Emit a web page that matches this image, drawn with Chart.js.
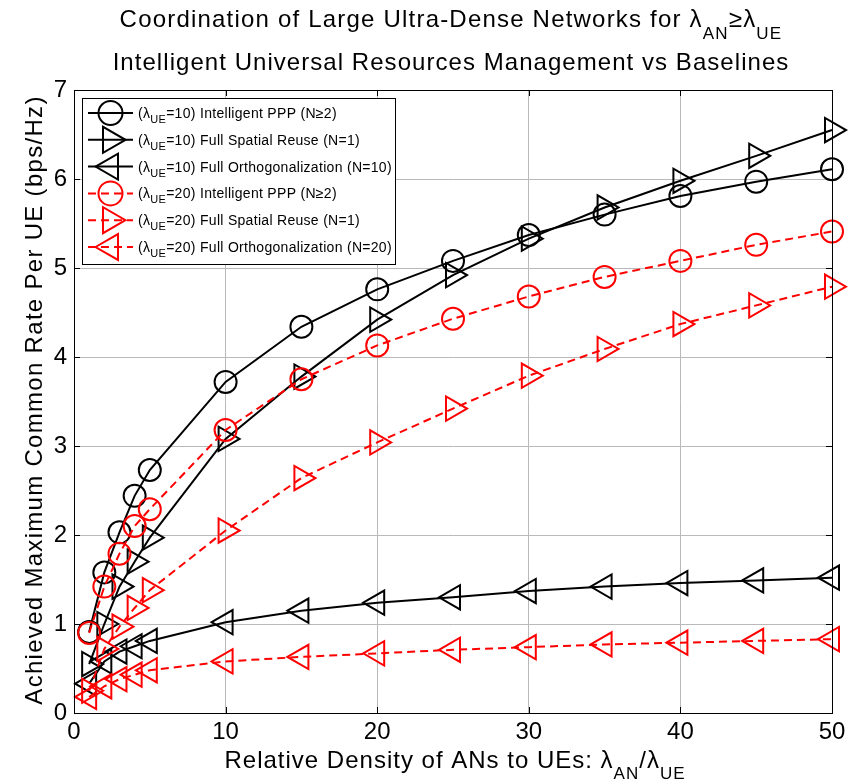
<!DOCTYPE html>
<html>
<head>
<meta charset="utf-8">
<script src="https://cdn.jsdelivr.net/npm/chart.js"></script>
<style>
  body { margin: 0; background: #fff; }
  #rateChart { display: block; }
</style>
</head>
<body>
<canvas id="rateChart" width="862" height="784"></canvas>
<script>
// relative density lambda_AN / lambda_UE
const densities = [1, 2, 3, 4, 5, 10, 15, 20, 25, 30, 35, 40, 45, 50];

// achieved max common rate (bps/Hz), lambda_UE = 10
const ipppUE10 = [0.91, 1.58, 2.03, 2.44, 2.73, 3.72, 4.34, 4.76, 5.08, 5.37, 5.60, 5.81, 5.97, 6.11];
const fsrUE10  = [0.55, 1.00, 1.42, 1.70, 1.97, 3.08, 3.78, 4.42, 4.92, 5.33, 5.68, 5.98, 6.26, 6.55];
const foUE10   = [0.33, 0.58, 0.69, 0.75, 0.81, 1.02, 1.15, 1.24, 1.30, 1.37, 1.42, 1.46, 1.49, 1.52];

// lambda_UE = 20
const ipppUE20 = [0.90, 1.42, 1.79, 2.10, 2.29, 3.18, 3.75, 4.13, 4.43, 4.68, 4.90, 5.08, 5.26, 5.41];
const fsrUE20  = [0.25, 0.72, 0.97, 1.18, 1.38, 2.05, 2.64, 3.04, 3.42, 3.79, 4.09, 4.37, 4.58, 4.79];
const foUE20   = [0.18, 0.30, 0.38, 0.43, 0.48, 0.58, 0.63, 0.67, 0.71, 0.74, 0.77, 0.79, 0.81, 0.83];

const ueDensity = [10, 10, 10, 20, 20, 20];
const schemeNames = [
  'Intelligent PPP (N\u22652)', 'Full Spatial Reuse (N=1)', 'Full Orthogonalization (N=10)',
  'Intelligent PPP (N\u22652)', 'Full Spatial Reuse (N=1)', 'Full Orthogonalization (N=20)'
];
const xTicks = [0, 10, 20, 30, 40, 50];
const yTicks = [0, 1, 2, 3, 4, 5, 6, 7];

const FONT = '"Liberation Sans", Arial, sans-serif';

//series look: marker, rotation, colour
const seriesData = [ipppUE10, fsrUE10, foUE10, ipppUE20, fsrUE20, foUE20];
const markers = ['circle', 'triangle', 'triangle', 'circle', 'triangle', 'triangle'];
const rotations = [0, 90, -90, 0, 90, -90];

function makeDataset(i) {
  const red = i >= 3;
  const col = red ? '#ff0000' : '#000000';
  return {
    label: '(\u03bbUE=' + ueDensity[i] + ') ' + schemeNames[i],
    data: densities.map((x, k) => ({ x: x, y: seriesData[i][k] })),
    borderColor: col,
    backgroundColor: 'rgba(0,0,0,0)',
    borderWidth: 2,
    borderDash: red ? [8, 5] : [],
    pointStyle: markers[i],
    pointRotation: rotations[i],
    pointRadius: markers[i] === 'circle' ? 11 : 14,
    pointBorderWidth: 2,
    pointBorderColor: col,
    pointBackgroundColor: 'rgba(0,0,0,0)',
    tension: 0,
    clip: false,
    order: 5 - i
  };
}

// text with subscripts: parts = [[text, isSub], ...]
function richWidth(ctx, parts, size, subSize) {
  let w = 0;
  parts.forEach(p => {
    ctx.font = (p[1] ? subSize : size) + 'px ' + FONT;
    w += ctx.measureText(p[0]).width;
  });
  return w;
}

function drawRich(ctx, parts, x, y, size, subSize, subDrop, align, spacing) {
  ctx.letterSpacing = (spacing || 0) + 'px';
  let w = richWidth(ctx, parts, size, subSize);
  let cx = align === 'center' ? x - w / 2 : x;
  ctx.textAlign = 'left';
  ctx.textBaseline = 'alphabetic';
  parts.forEach(p => {
    ctx.font = (p[1] ? subSize : size) + 'px ' + FONT;
    ctx.fillText(p[0], cx, p[1] ? y + subDrop : y);
    cx += ctx.measureText(p[0]).width;
  });
  ctx.letterSpacing = '0px';
}

function drawMarker(ctx, style, rot, x, y, r) {
  ctx.beginPath();
  if (style === 'circle') {
    ctx.arc(x, y, r, 0, Math.PI * 2);
  } else {
    const rad = rot * Math.PI / 180;
    for (let k = 0; k < 3; k++) {
      const a = rad + k * 2 * Math.PI / 3;
      const px = x + Math.sin(a) * r, py = y - Math.cos(a) * r;
      if (k === 0) ctx.moveTo(px, py); else ctx.lineTo(px, py);
    }
    ctx.closePath();
  }
  ctx.stroke();
}

const decorations = {
  id: 'decorations',
  afterDatasetsDraw(chart) {
    const ctx = chart.ctx;
    const a = chart.chartArea;
    ctx.save();

    // box + inward ticks like matlab
    ctx.strokeStyle = '#000';
    ctx.lineWidth = 1;
    ctx.setLineDash([]);
    ctx.strokeRect(a.left + 0.5, a.top + 0.5, a.right - a.left, a.bottom - a.top);
    const xs = chart.scales.x, ys = chart.scales.y;
    ctx.beginPath();
    xTicks.forEach(t => {
      const px = Math.round(xs.getPixelForValue(t)) + 0.5;
      ctx.moveTo(px, a.bottom); ctx.lineTo(px, a.bottom - 6);
      ctx.moveTo(px, a.top); ctx.lineTo(px, a.top + 6);
    });
    yTicks.forEach(t => {
      const py = Math.round(ys.getPixelForValue(t)) + 0.5;
      ctx.moveTo(a.left, py); ctx.lineTo(a.left + 6, py);
      ctx.moveTo(a.right, py); ctx.lineTo(a.right - 6, py);
    });
    ctx.stroke();

    // legend
    const lx = 82, ly = 98, lw = 313, lh = 166;
    ctx.fillStyle = '#fff';
    ctx.fillRect(lx, ly, lw, lh);
    ctx.strokeRect(lx + 0.5, ly + 0.5, lw, lh);
    chart.data.datasets.forEach((ds, i) => {
      const rowY = 113 + i * 26.8;
      ctx.strokeStyle = ds.borderColor;
      ctx.lineWidth = 2;
      ctx.setLineDash(ds.borderDash);
      ctx.beginPath();
      ctx.moveTo(88, rowY); ctx.lineTo(133, rowY);
      ctx.stroke();
      ctx.setLineDash([]);
      drawMarker(ctx, ds.pointStyle, ds.pointRotation, 110.5, rowY, ds.pointStyle === 'circle' ? 12 : 15);
      ctx.fillStyle = '#000';
      drawRich(ctx, [['(\u03bb', false], ['UE', true], ['=' + ueDensity[i] + ') ' + schemeNames[i], false]],
        138, rowY + 5, 14, 11, 5, 'left', 0.3);
    });
    ctx.restore();
  },
  afterDraw(chart) {
    const ctx = chart.ctx;
    ctx.save();
    ctx.fillStyle = '#000';
    drawRich(ctx, [['Coordination of Large Ultra-Dense Networks for \u03bb', false], ['AN', true], ['\u2265\u03bb', false], ['UE', true]],
      451, 27, 24, 17, 12, 'center', 1.2);
    drawRich(ctx, [['Intelligent Universal Resources Management vs Baselines', false]], 451, 70, 24, 17, 12, 'center', 1.05);
    drawRich(ctx, [['Relative Density of ANs to UEs: \u03bb', false], ['AN', true], ['/\u03bb', false], ['UE', true]],
      455, 768, 24, 17, 11, 'center', 1);
    ctx.translate(42, 400);
    ctx.rotate(-Math.PI / 2);
    drawRich(ctx, [['Achieved Maximum Common Rate Per UE (bps/Hz)', false]], 0, 0, 24, 17, 12, 'center', 1.3);
    ctx.restore();
  }
};

const rateChart = new Chart(document.getElementById('rateChart'), {
  type: 'line',
  data: { datasets: seriesData.map((s, i) => makeDataset(i)) },
  options: {
    responsive: false,
    animation: false,
    devicePixelRatio: 1,
    layout: { padding: { top: 90, right: 30, left: 0, bottom: 0 } },
    plugins: {
      legend: { display: false },
      title: { display: false },
      tooltip: { enabled: false }
    },
    scales: {
      x: {
        type: 'linear',
        min: 0,
        max: 50,
        afterFit: s => { s.height = 71; },
        afterBuildTicks: s => { s.ticks = xTicks.map(v => ({ value: v })); },
        ticks: { color: '#000', font: { family: FONT, size: 24 }, padding: 5, maxRotation: 0 },
        grid: { color: 'rgb(185,185,185)', drawTicks: false },
        border: { color: '#000' }
      },
      y: {
        min: 0,
        max: 7,
        afterFit: s => { s.width = 74; },
        afterBuildTicks: s => { s.ticks = yTicks.map(v => ({ value: v })); },
        ticks: { color: '#000', font: { family: FONT, size: 24 }, padding: 7 },
        grid: { color: 'rgb(185,185,185)', drawTicks: false },
        border: { color: '#000' }
      }
    }
  },
  plugins: [decorations]
});
</script>
</body>
</html>
